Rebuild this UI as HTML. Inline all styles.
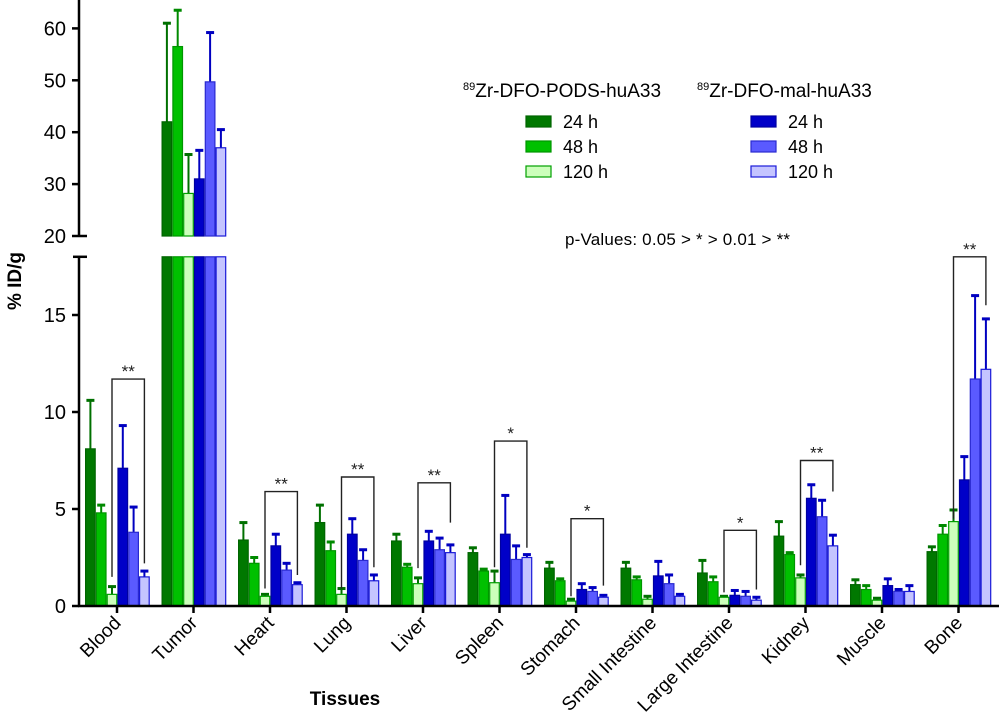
<!DOCTYPE html>
<html><head><meta charset="utf-8"><style>
body{margin:0;background:#fff}
svg{display:block;font-family:"Liberation Sans",sans-serif}
</style></head><body>
<svg id="chart" width="999" height="723" viewBox="0 0 999 723" xmlns="http://www.w3.org/2000/svg"></svg>
<script>
const categories=["Blood","Tumor","Heart","Lung","Liver","Spleen","Stomach","Small Intestine","Large Intestine","Kidney","Muscle","Bone"];
const pods24=[8.1,42,3.4,4.3,3.35,2.75,1.95,1.95,1.7,3.6,1.1,2.8];
const pods24Err=[2.5,19,0.9,0.9,0.35,0.25,0.3,0.3,0.65,0.75,0.25,0.25];
const pods48=[4.8,56.5,2.2,2.85,2.0,1.8,1.3,1.35,1.25,2.65,0.85,3.7];
const pods48Err=[0.4,7,0.3,0.45,0.15,0.1,0.1,0.15,0.25,0.1,0.2,0.45];
const pods120=[0.6,28.2,0.5,0.6,1.15,1.2,0.25,0.35,0.45,1.45,0.3,4.35];
const pods120Err=[0.4,7.5,0.1,0.3,0.3,0.6,0.1,0.15,0.05,0.15,0.1,0.6];
const mal24=[7.1,31,3.1,3.7,3.35,3.7,0.85,1.55,0.55,5.55,1.05,6.5];
const mal24Err=[2.2,5.5,0.6,0.8,0.5,2.0,0.3,0.75,0.25,0.7,0.35,1.2];
const mal48=[3.8,49.7,1.85,2.35,2.9,2.4,0.75,1.15,0.5,4.6,0.75,11.7];
const mal48Err=[1.3,9.5,0.35,0.55,0.6,0.7,0.2,0.45,0.25,0.85,0.1,4.3];
const mal120=[1.5,37,1.1,1.3,2.75,2.5,0.45,0.5,0.3,3.1,0.75,12.2];
const mal120Err=[0.3,3.5,0.1,0.3,0.4,0.15,0.1,0.1,0.15,0.55,0.3,2.6];
const lowerTicks=[0,5,10,15];
const upperTicks=[20,30,40,50,60];
const sigCats=["Blood","Heart","Lung","Liver","Spleen","Stomach","Large Intestine","Kidney","Bone"];
const sigLabels=["**","**","**","**","*","*","*","**","**"];
const sigTop=[11.7,5.9,6.65,6.35,8.5,4.5,3.9,7.5,18.0];
const sigLeftBottom=[1.5,0.9,0.9,1.95,2.0,0.5,0.7,2.1,4.5];
const sigRightBottom=[2.2,1.6,2.0,4.3,3.0,1.05,0.85,5.9,15.5];

const series=[
 {v:pods24,e:pods24Err,fill:"#007800",stroke:"#006400",err:"#007000",name:"pods-24h"},
 {v:pods48,e:pods48Err,fill:"#00c000",stroke:"#009600",err:"#008a00",name:"pods-48h"},
 {v:pods120,e:pods120Err,fill:"#ccffbb",stroke:"#00a000",err:"#007000",name:"pods-120h"},
 {v:mal24,e:mal24Err,fill:"#0000c8",stroke:"#0000a0",err:"#0000c0",name:"mal-24h"},
 {v:mal48,e:mal48Err,fill:"#5a5aff",stroke:"#2a2ad0",err:"#0000c0",name:"mal-48h"},
 {v:mal120,e:mal120Err,fill:"#c4c4ff",stroke:"#1a1ad8",err:"#0000c0",name:"mal-120h"}
];
const svg=document.getElementById('chart');
const NS="http://www.w3.org/2000/svg";
function mk(tag,attrs,parent){const el=document.createElementNS(NS,tag);for(const k in attrs)el.setAttribute(k,attrs[k]);(parent||svg).appendChild(el);return el;}
const X0=79, Y0=606, LOW_PX=19.4, LOW_MAX=18, UP_BASE=236, UP_PX=5.19;
function yLow(v){return Y0-v*LOW_PX;}
function yUp(v){return UP_BASE-(v-20)*UP_PX;}
function yAny(v){return v<=LOW_MAX?yLow(v):yUp(v);}
function xCat(i){return 117+i*76.5;}
const BW=10.8;
function xBar(i,s){return xCat(i)-32+s*BW;}

const ax=mk('g',{});

mk('line',{x1:X0,y1:0,x2:X0,y2:UP_BASE,stroke:"#000","stroke-width":2.5},ax);
mk('line',{x1:X0,y1:yLow(LOW_MAX),x2:X0,y2:Y0+1,stroke:"#000","stroke-width":2.5},ax);
mk('line',{x1:73,y1:yLow(LOW_MAX),x2:87,y2:yLow(LOW_MAX),stroke:"#000","stroke-width":2.5},ax);
lowerTicks.forEach(t=>{
 mk('line',{x1:72,y1:yLow(t),x2:X0,y2:yLow(t),stroke:"#000","stroke-width":2.5},ax);
 const tx=mk('text',{x:66,y:yLow(t)+7,"text-anchor":"end","font-size":20},ax);tx.textContent=t;
 
 
});
upperTicks.forEach(t=>{
 mk('line',{x1:72,y1:yUp(t),x2:t===20?87:X0,y2:yUp(t),stroke:"#000","stroke-width":2.5},ax);
 const tx=mk('text',{x:66,y:yUp(t)+7,"text-anchor":"end","font-size":20},ax);tx.textContent=t;
 
 
});
const yt=mk('text',{x:0,y:0,transform:"translate(21,281) rotate(-90)","text-anchor":"middle","font-size":19,"font-weight":"bold"});
yt.textContent="% ID/g";



series.forEach((s,si)=>{
 const g=mk('g',{});
 
 
 s.v.forEach((v,i)=>{
  const x=xBar(i,si);
  const top=v+s.e[i];
  mk('line',{x1:x+BW/2,y1:yAny(v),x2:x+BW/2,y2:yAny(top),stroke:s.err,"stroke-width":2},g);
  mk('line',{x1:x+BW/2-4,y1:yAny(top),x2:x+BW/2+4,y2:yAny(top),stroke:s.err,"stroke-width":3},g);
  if(v<=LOW_MAX){
   const r=mk('rect',{x:x+0.6,y:yLow(v),width:BW-1.2,height:Y0-yLow(v),fill:s.fill,stroke:s.stroke,"stroke-width":1.2},g);
   
   
  } else {
   const r=mk('rect',{x:x+0.6,y:yLow(LOW_MAX),width:BW-1.2,height:Y0-yLow(LOW_MAX),fill:s.fill,stroke:s.stroke,"stroke-width":1.2},g);
   
   
   const r2=mk('rect',{x:x+0.6,y:yUp(v),width:BW-1.2,height:yUp(20)-yUp(v),fill:s.fill,stroke:s.stroke,"stroke-width":1.2},g);
   
   
  }
 });
});

const xa=mk('g',{});


mk('line',{x1:X0-1,y1:Y0,x2:999,y2:Y0,stroke:"#000","stroke-width":2.5},xa);
categories.forEach((c,i)=>{
 const x=xCat(i);
 mk('line',{x1:x,y1:Y0,x2:x,y2:Y0+7,stroke:"#000","stroke-width":2.5},xa);
 const t=mk('text',{x:0,y:0,transform:`translate(${x+5},${Y0+18}) rotate(-45)`,"text-anchor":"end","font-size":19},xa);
 t.textContent=c;
 
 
});
const xt=mk('text',{x:345,y:705,"text-anchor":"middle","font-size":19,"font-weight":"bold"});
xt.textContent="Tissues";



sigCats.forEach((c,k)=>{
 const i=categories.indexOf(c);
 const xl=xBar(i,2)+BW/2, xr=xBar(i,5)+BW/2, yt2=yLow(sigTop[k]);
 const g=mk('g',{});
 
 
 mk('polyline',{points:`${xl},${yLow(sigLeftBottom[k])} ${xl},${yt2} ${xr},${yt2} ${xr},${yLow(sigRightBottom[k])}`,fill:"none",stroke:"#222","stroke-width":1.4},g);
 const t=mk('text',{x:(xl+xr)/2,y:yt2-2,"text-anchor":"middle","font-size":17,fill:"#222"},g);
 t.textContent=sigLabels[k];
});

const lg=mk('g',{});


function title(x,txt,nm){const t=mk('text',{x:x,y:97,"font-size":19},lg);
 const s=mk('tspan',{"font-size":11,dy:-7},t);s.textContent="89";
 const r=mk('tspan',{dy:7},t);r.textContent=txt;
 
 }
title(463,"Zr-DFO-PODS-huA33","legend-title-pods");
title(697,"Zr-DFO-mal-huA33","legend-title-mal");
const labels=["24 h","48 h","120 h"];
series.forEach((s,si)=>{
 const col=si<3?0:1, row=si%3;
 const sx=col?751:526, y=116+row*25;
 const e=mk('g',{},lg);
 
 
 mk('rect',{x:sx,y:y,width:25,height:11,fill:s.fill,stroke:s.stroke,"stroke-width":1.2},e);
 const t=mk('text',{x:sx+37,y:y+12,"font-size":18},e);t.textContent=labels[row];
});
const pv=mk('text',{x:565,y:245,"font-size":17,"textLength":225});
pv.textContent="p-Values: 0.05 > * > 0.01 > **";


</script>
</body></html>
